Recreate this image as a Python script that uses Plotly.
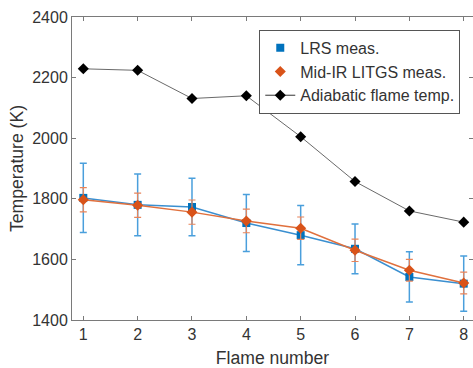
import plotly.graph_objects as go

flame = [1, 2, 3, 4, 5, 6, 7, 8]
lrs_temp = [1803, 1780, 1773, 1720, 1680, 1635, 1542, 1520]
lrs_err = [114, 102, 95, 94, 98, 82, 83, 91]
litgs_temp = [1797, 1779, 1756, 1727, 1703, 1630, 1564, 1522]
litgs_err = [40, 40, 40, 39, 37, 37, 36, 36]
adiabatic = [2229, 2224, 2131, 2140, 2005, 1857, 1760, 1723]

BLUE = "#0072BD"
ORANGE = "#D95319"
FONT = "Liberation Sans, Arial, sans-serif"

fig = go.Figure()

fig.add_trace(go.Scatter(
    x=flame, y=lrs_temp, mode="lines+markers", showlegend=False,
    line=dict(color="#3a8fd0", width=1.5),
    marker=dict(symbol="square", size=8, color=BLUE),
    error_y=dict(type="data", array=lrs_err, visible=True,
                 color="#4a9fdc", thickness=1.5, width=3.5),
))
fig.add_trace(go.Scatter(
    x=flame, y=litgs_temp, mode="lines+markers", showlegend=False,
    line=dict(color="#e0703d", width=1.5),
    marker=dict(symbol="diamond", size=8.5, color=ORANGE),
    error_y=dict(type="data", array=litgs_err, visible=True,
                 color="#e8845a", thickness=1.2, width=3.5),
))
fig.add_trace(go.Scatter(
    x=flame, y=adiabatic, mode="lines+markers", showlegend=False,
    line=dict(color="#6a6a6a", width=1),
    marker=dict(symbol="diamond", size=8.5, color="black"),
))

# legend entries
fig.add_trace(go.Scatter(x=[None], y=[None], mode="markers", name="LRS meas.",
                         marker=dict(symbol="square", size=8, color=BLUE)))
fig.add_trace(go.Scatter(x=[None], y=[None], mode="markers", name="Mid-IR LITGS meas.",
                         marker=dict(symbol="diamond", size=8.5, color=ORANGE)))
fig.add_trace(go.Scatter(x=[None], y=[None], mode="lines+markers", name="Adiabatic flame temp.",
                         line=dict(color="#333333", width=1),
                         marker=dict(symbol="diamond", size=8.5, color="black")))

axis_common = dict(
    showline=True, linecolor="#7a7a7a", linewidth=1, mirror="ticks",
    ticks="inside", ticklen=4, tickcolor="#7a7a7a", showgrid=False, zeroline=False,
    tickfont=dict(family=FONT, size=16, color="#333333"),
)

fig.update_layout(
    width=473, height=368,
    margin=dict(l=72, r=0, t=17, b=48),
    paper_bgcolor="white", plot_bgcolor="white",
    font=dict(family=FONT, size=16, color="#333333"),
    xaxis=dict(range=[0.792, 8.171], tickvals=flame,
               title=dict(text="Flame number", standoff=9, font=dict(size=17.6)),
               **axis_common),
    yaxis=dict(range=[1400, 2400], tickvals=[1400, 1600, 1800, 2000, 2200, 2400],
               title=dict(text="Temperature (K)", standoff=4, font=dict(size=17.6)),
               **axis_common),
    legend=dict(x=0.467, y=0.958, xanchor="left", yanchor="top",
                bgcolor="white", bordercolor="#555555", borderwidth=1,
                font=dict(family=FONT, size=16, color="#333333"),
                tracegroupgap=0, itemwidth=30),
)

fig.write_html("out.html")
